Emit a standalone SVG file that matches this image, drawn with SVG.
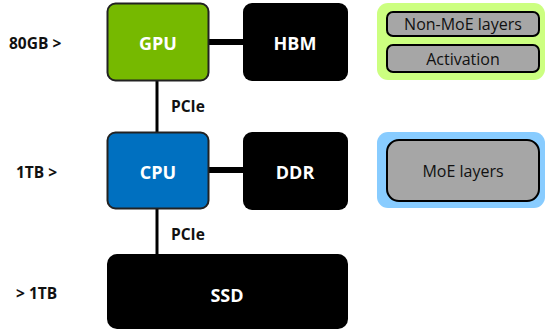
<svg xmlns="http://www.w3.org/2000/svg" width="547" height="329" viewBox="0 0 547 329">
<style>
.box{stroke:#222;stroke-width:2}
.blk{fill:#000}
.wt{font-family:"Open Sans","Liberation Sans",sans-serif;font-weight:bold;font-size:18px;fill:#fff;text-anchor:middle;dominant-baseline:central}
.lb{font-family:"Open Sans","Liberation Sans",sans-serif;font-weight:bold;font-size:15.5px;fill:#111;dominant-baseline:central}
.gr{fill:#a6a6a6;stroke:#000;stroke-width:2}
.gt{font-family:"Open Sans","Liberation Sans",sans-serif;font-size:16px;fill:#111;text-anchor:middle;dominant-baseline:central}
</style>
<rect width="547" height="329" fill="#fff"/>
<g id="connectors" stroke="#000">
<line x1="209" y1="42" x2="243" y2="42" stroke-width="6"/>
<line x1="209" y1="170" x2="243" y2="170" stroke-width="6"/>
<line x1="157" y1="80" x2="157" y2="132" stroke-width="3"/>
<line x1="157" y1="209" x2="157" y2="255" stroke-width="3"/>
</g>
<text class="lb" x="171" y="106">PCIe</text>
<text class="lb" x="171" y="234">PCIe</text>
<text class="lb" x="9" y="43">80GB &gt;</text>
<text class="lb" x="16" y="172">1TB &gt;</text>
<text class="lb" x="16" y="293">&gt; 1TB</text>
<g id="gpu"><rect class="box" x="107.5" y="3.5" width="101" height="77" rx="8" fill="#76b900"/><text class="wt" x="158" y="43">GPU</text></g>
<g id="hbm"><rect class="blk" x="243" y="3" width="105" height="78" rx="9"/><text class="wt" x="295" y="43">HBM</text></g>
<g id="cpu"><rect class="box" x="107.5" y="132.5" width="101" height="76" rx="8" fill="#0070c0"/><text class="wt" x="158" y="172">CPU</text></g>
<g id="ddr"><rect class="blk" x="243" y="132" width="105" height="78" rx="9"/><text class="wt" x="295" y="172">DDR</text></g>
<g id="ssd"><rect class="blk" x="107" y="254" width="241" height="75" rx="10"/><text class="wt" x="227" y="295">SSD</text></g>
<g id="gpu-mem"><rect x="377" y="3" width="168" height="77" rx="11" fill="#ccff80"/>
<g id="non-moe"><rect class="gr" x="387" y="12" width="152" height="24" rx="6"/><text class="gt" x="463" y="24">Non-MoE layers</text></g>
<g id="activation"><rect class="gr" x="387" y="45" width="152" height="27" rx="6"/><text class="gt" x="463" y="59">Activation</text></g>
</g>
<g id="cpu-mem"><rect x="377" y="132" width="168" height="76" rx="11" fill="#88ccff"/>
<g id="moe"><rect class="gr" x="387" y="140" width="152" height="61" rx="12"/><text class="gt" x="463" y="171">MoE layers</text></g>
</g>
</svg>
